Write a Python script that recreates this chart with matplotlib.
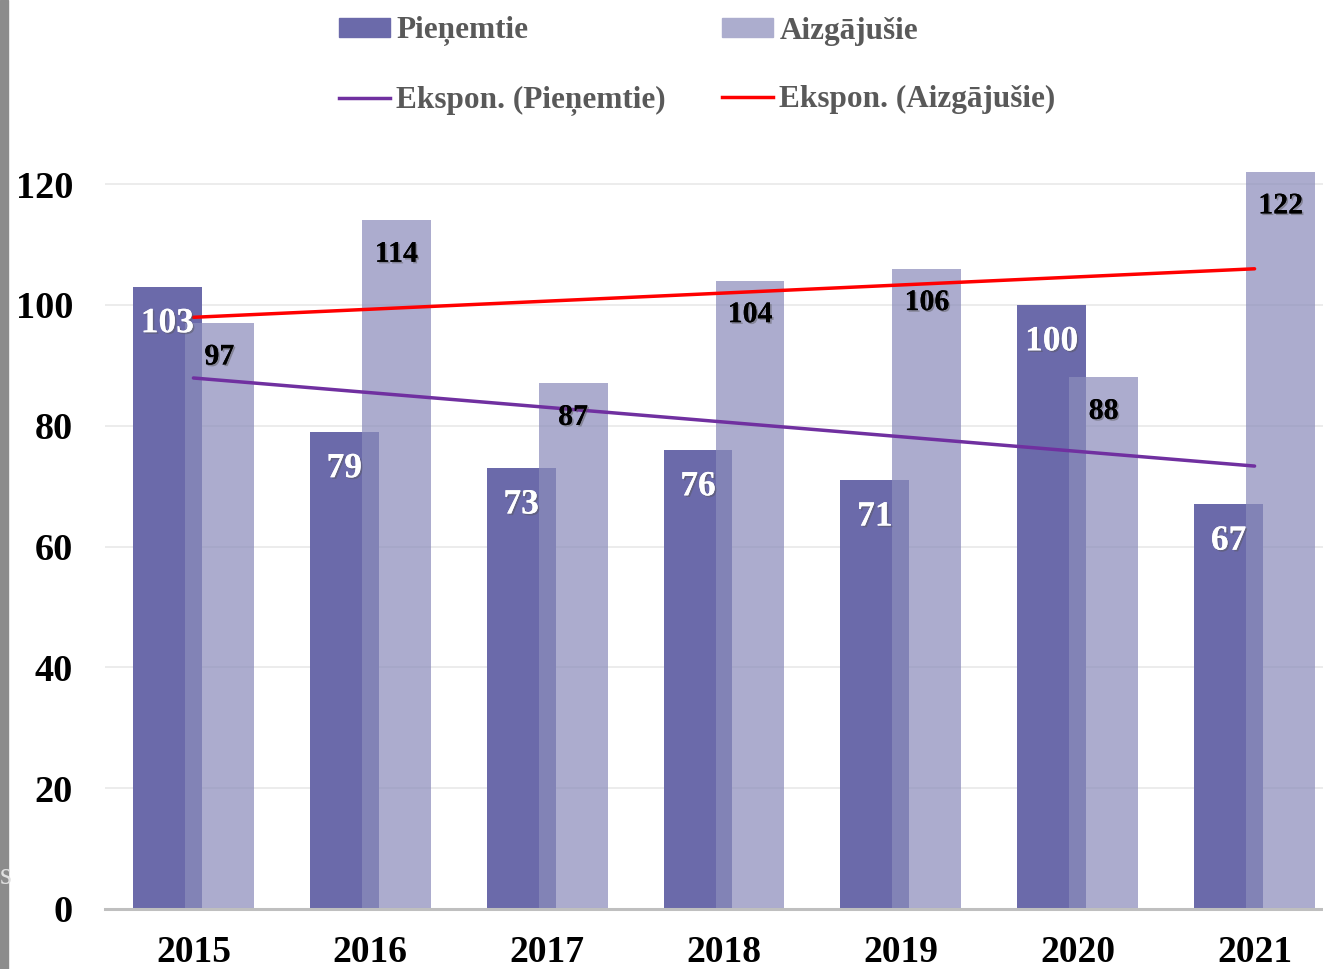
import numpy as np
import matplotlib
matplotlib.use("Agg")
import matplotlib.pyplot as plt
import matplotlib.patheffects as pe
from matplotlib.patches import Patch, Rectangle
from matplotlib.lines import Line2D

years = ["2015", "2016", "2017", "2018", "2019", "2020", "2021"]
pienemtie = [103, 79, 73, 76, 71, 100, 67]
aizgajusie = [97, 114, 87, 104, 106, 88, 122]
yticks = [0, 20, 40, 60, 80, 100, 120]

c_dark = "#6B6AAA"
c_light = "#8C8DBB"
c_purple = "#7030A0"
c_red = "#FF0000"

plt.rcParams['font.family'] = ['Liberation Serif', 'DejaVu Serif']
plt.rcParams['font.weight'] = 'bold'

W, H = 1323, 969
fig = plt.figure(figsize=(W / 100, H / 100), dpi=100)

# axes in pixel coordinates
x_left, x_right = 105, 1343
y0_px = 909
px_per_unit = (909 - 184) / 120.0
ytop = 124
y_top_px = y0_px - ytop * px_per_unit
ax = fig.add_axes([x_left / W, (H - y0_px) / H, (x_right - x_left) / W, (y0_px - y_top_px) / H])

x = np.arange(len(years))
bw = 0.39
off = 0.147
ax.bar(x - off, pienemtie, bw, color=c_dark, zorder=2)
ax.bar(x + off, aizgajusie, bw, color=c_light, alpha=0.72, zorder=3)

# exponential trendlines
t = np.arange(1, len(years) + 1)
def expfit(vals):
    k, c = np.polyfit(t, np.log(vals), 1)
    return np.exp(c + k * t)
tr1 = expfit(pienemtie)
tr2 = expfit(aizgajusie)
ax.plot([x[0], x[-1]], [tr1[0], tr1[-1]], color=c_purple, lw=2.5, zorder=5, solid_capstyle='round')
ax.plot([x[0], x[-1]], [tr2[0], tr2[-1]], color=c_red, lw=2.5, zorder=5, solid_capstyle='round')

shadow = [pe.withSimplePatchShadow(offset=(1.2, -1.2), shadow_rgbFace='#555555', alpha=0.45), pe.Normal()]
for xi, v in zip(x, pienemtie):
    ax.annotate(str(v), (xi - off, v), xytext=(0, -37), textcoords='offset pixels',
                ha='center', va='center', fontsize=25.5, fontweight='bold', color='white',
                zorder=6, path_effects=shadow)
for xi, v in zip(x, aizgajusie):
    ax.annotate(str(v), (xi + off, v), xytext=(0, -34), textcoords='offset pixels',
                ha='center', va='center', fontsize=21.5, fontweight='bold', color='black',
                zorder=6, path_effects=shadow)

ax.set_xlim(-0.5, 6.5)
ax.set_ylim(0, ytop)
ax.set_yticks(yticks)
ax.set_yticklabels([str(v) for v in yticks], fontsize=27.5, fontweight='bold')
ax.set_xticks(x)
ax.set_xticklabels(years, fontsize=27, fontweight='bold')
ax.tick_params(axis='both', length=0)
ax.tick_params(axis='y', pad=23)
ax.tick_params(axis='x', pad=19)
ax.grid(axis='y', color='#EBEBEB', lw=1.3, zorder=0)
ax.set_axisbelow(True)
for s in ['top', 'right', 'left']:
    ax.spines[s].set_visible(False)
ax.spines['bottom'].set_color('#BFBFBF')
ax.spines['bottom'].set_linewidth(2.2)
ax.spines['bottom'].set_zorder(4)

handles = [Patch(color=c_dark), Line2D([], [], color=c_purple, lw=2.5),
           Patch(color="#ACADCE"), Line2D([], [], color=c_red, lw=2.5)]
labels = ["Pieņemtie", "Ekspon. (Pieņemtie)", "Aizgājušie", "Ekspon. (Aizgājušie)"]
leg = fig.legend(handles, labels, ncol=2, loc='upper left',
                 bbox_to_anchor=(326 / W, 1 - 4 / H), frameon=False,
                 prop={'family': 'Liberation Serif', 'weight': 'bold', 'size': 22.5},
                 handlelength=1.65, handleheight=0.55, handletextpad=0.2,
                 columnspacing=1.78, labelspacing=1.27, borderaxespad=0)
for txt in leg.get_texts():
    txt.set_color('#595959')

# left cropped-edge strip
fig.patches.append(Rectangle((0, 0), 8 / W, 1, transform=fig.transFigure,
                             color='#8C8C8C', zorder=10))
fig.text(0 / W, 1 - 877 / H, "s", fontsize=22, color='#E0E0E0', ha='left', va='center',
         fontweight='normal', zorder=11)

fig.savefig("out.png", dpi=100)
